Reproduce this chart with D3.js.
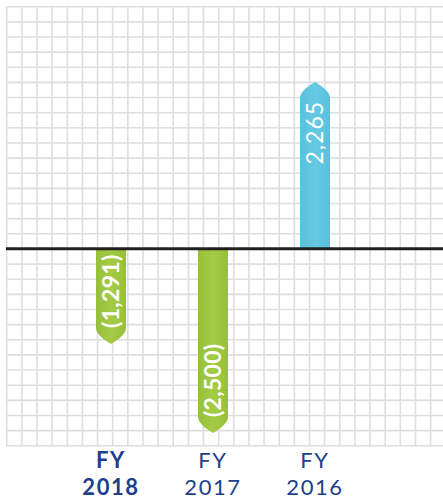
<!DOCTYPE html>
<html>
<head>
<meta charset="utf-8">
<script src="https://cdn.jsdelivr.net/npm/d3@7"></script>
<style>
  body { margin: 0; background: #fff; }
  svg { display: block; }
</style>
</head>
<body>
<div id="chart"></div>
<script>
// data
var years = ["2018", "2017", "2016"];
var values = [-1291, -2500, 2265];
var labels = ["(1,291)", "(2,500)", "2,265"];

var width = 443, height = 504;

var svg = d3.select("#chart").append("svg")
  .attr("width", width)
  .attr("height", height);

// grid paper background
var cell = 15.14, gx0 = 6.7, gy0 = 6.7;
var gridY = d3.range(0, 30).map(function (i) { return gy0 + i * cell; });
var gridX = d3.range(0, 30).map(function (i) { return gx0 + i * cell; });
var grid = svg.append("g").attr("stroke", "#dedede").attr("stroke-width", 1.6);
grid.selectAll("line.h").data(gridY).enter().append("line")
  .attr("x1", 6).attr("x2", width)
  .attr("y1", function (d) { return d; }).attr("y2", function (d) { return d; });
grid.selectAll("line.v").data(gridX).enter().append("line")
  .attr("y1", 6).attr("y2", gy0 + 29 * cell)
  .attr("x1", function (d) { return d; }).attr("x2", function (d) { return d; });

// scales
var x = d3.scalePoint().domain(years).range([111, 315]);
var y = d3.scaleLinear().domain([-2500, 2500]).range([433, 64.6]);

var defs = svg.append("defs");
function grad(id, edge, mid) {
  var g = defs.append("linearGradient").attr("id", id)
    .attr("x1", "0%").attr("x2", "100%");
  g.append("stop").attr("offset", "0%").attr("stop-color", edge);
  g.append("stop").attr("offset", "50%").attr("stop-color", mid);
  g.append("stop").attr("offset", "100%").attr("stop-color", edge);
}
grad("gneg", "#96c03a", "#a5cb46");
grad("gpos", "#58c1dd", "#66c9e2");

var barW = 30, tip = 16;

// bar with a pointed end at the value
function arrowPath(d, i) {
  var cx = x(years[i]), l = cx - barW / 2, r = cx + barW / 2;
  var y0 = y(0), y1 = y(d);
  var dir = d < 0 ? 1 : -1;
  var ys = y1 - dir * tip;
  return "M" + l + "," + y0 +
    "L" + l + "," + ys +
    "Q" + l + "," + (ys + dir * tip * 0.45) + " " + cx + "," + y1 +
    "Q" + r + "," + (ys + dir * tip * 0.45) + " " + r + "," + ys +
    "L" + r + "," + y0 + "Z";
}

svg.selectAll("path.bar").data(values).enter().append("path")
  .attr("class", "bar")
  .attr("d", arrowPath)
  .attr("fill", function (d) { return d < 0 ? "url(#gneg)" : "url(#gpos)"; });

// value labels, rotated, near the pointed end
svg.selectAll("text.val").data(values).enter().append("text")
  .attr("class", "val")
  .attr("transform", function (d, i) {
    var ty = d < 0 ? y(d) - 16 : y(d) + 19;
    return "translate(" + x(years[i]) + "," + ty + ") rotate(-90)";
  })
  .attr("text-anchor", function (d) { return d < 0 ? "start" : "end"; })
  .attr("dy", "0.36em")
  .attr("fill", "#fff")
  .style("font-family", "Lato, 'Open Sans', sans-serif")
  .style("font-size", "23px")
  .style("font-weight", function (d) { return d < 0 ? 700 : 400; })
  .style("letter-spacing", function (d) { return d < 0 ? "0.3px" : "1px"; })
  .text(function (d, i) { return labels[i]; });

// zero line
svg.append("line")
  .attr("x1", 6).attr("x2", width)
  .attr("y1", y(0)).attr("y2", y(0))
  .attr("stroke", "#231f20").attr("stroke-width", 3);

// category labels
var cat = svg.selectAll("g.cat").data(years).enter().append("g")
  .attr("class", "cat")
  .attr("transform", function (d) { return "translate(" + x(d) + ",0)"; })
  .attr("fill", "#1d3f8c")
  .attr("text-anchor", "middle")
  .style("font-family", "Lato, 'Open Sans', sans-serif")
  .style("font-size", "22px")
  .style("letter-spacing", "1.6px")
  .style("font-weight", function (d, i) { return i === 0 ? 700 : 400; });
cat.append("text").attr("y", 468).text("FY");
cat.append("text").attr("y", 495).text(function (d) { return d; });
</script>
</body>
</html>
